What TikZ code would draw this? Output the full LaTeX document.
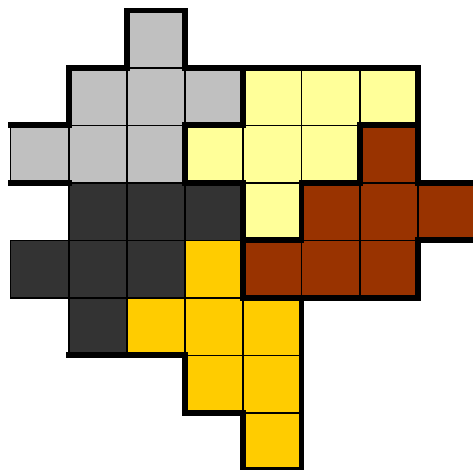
\documentclass[tikz,border=0pt]{standalone}
\usepackage{tikz}
\definecolor{pieceSilver}{RGB}{192,192,192}
\definecolor{pieceCream}{RGB}{255,255,153}
\definecolor{pieceRust}{RGB}{153,51,0}
\definecolor{pieceCoal}{RGB}{51,51,51}
\definecolor{pieceGold}{RGB}{255,204,0}

\begin{document}
\begin{tikzpicture}[x=1.164cm,y=-1.15cm,
  cellline/.style={draw=black,line width=1.1pt},
  edgeline/.style={draw=black,line width=3.4pt,line cap=rect,line join=miter}]
\useasboundingbox (-0.1804,-0.1826) rectangle (7.947,7.991);
% the seven-cell pieces
\foreach \c/\r/\col in {
  2/0/pieceSilver, 1/1/pieceSilver, 2/1/pieceSilver, 3/1/pieceSilver,
  0/2/pieceSilver, 1/2/pieceSilver, 2/2/pieceSilver,
  4/1/pieceCream, 5/1/pieceCream, 6/1/pieceCream, 3/2/pieceCream,
  4/2/pieceCream, 5/2/pieceCream, 4/3/pieceCream,
  6/2/pieceRust, 5/3/pieceRust, 6/3/pieceRust, 7/3/pieceRust,
  4/4/pieceRust, 5/4/pieceRust, 6/4/pieceRust,
  1/3/pieceCoal, 2/3/pieceCoal, 3/3/pieceCoal, 0/4/pieceCoal,
  1/4/pieceCoal, 2/4/pieceCoal, 1/5/pieceCoal,
  3/4/pieceGold, 2/5/pieceGold, 3/5/pieceGold, 4/5/pieceGold,
  3/6/pieceGold, 4/6/pieceGold, 4/7/pieceGold}
{
  \filldraw[cellline,fill=\col] (\c,\r) rectangle ++(1,1);
}
% heavy outlines
\draw[edgeline] (0,2) -- (1,2) -- (1,1) -- (2,1) -- (2,0) -- (3,0) -- (3,1)
  -- (7,1) -- (7,3) -- (8.3,3);
\draw[edgeline] (8.3,4) -- (7,4) -- (7,5) -- (5,5) -- (5,8) -- (4,8) -- (4,7)
  -- (3,7) -- (3,6) -- (1,6);
\draw[edgeline] (0,3) -- (1,3);
\draw[edgeline] (4,1) -- (4,2) -- (3,2) -- (3,3) -- (4,3) -- (4,5) -- (5,5);
\draw[edgeline] (4,4) -- (5,4) -- (5,3) -- (6,3) -- (6,2) -- (7,2);
\end{tikzpicture}
\end{document}
